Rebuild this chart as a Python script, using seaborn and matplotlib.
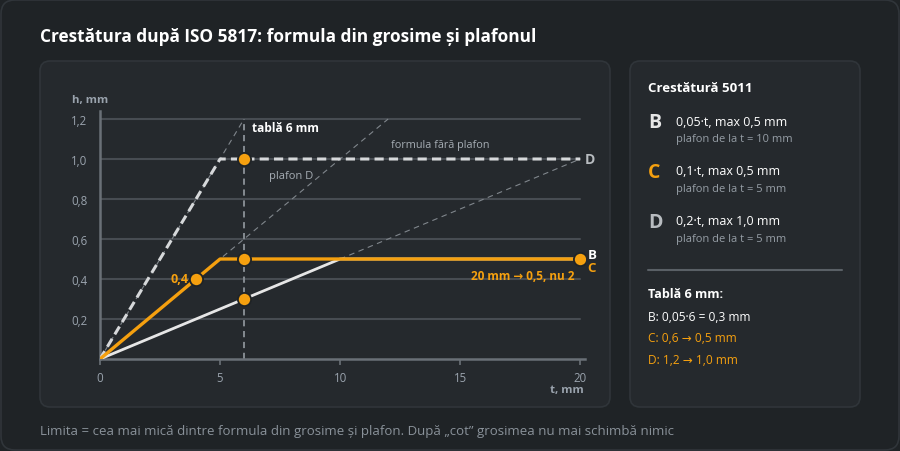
import numpy as np
import pandas as pd
import matplotlib
matplotlib.use("Agg")
import matplotlib.pyplot as plt
import seaborn as sns
from matplotlib.patches import FancyBboxPatch

# date: limita crestaturii h (mm) in functie de grosimea tablei t (mm)
t_b = [0, 10, 20]
h_b = [0, 0.5, 0.5]
t_c = [0, 5, 20]
h_c = [0, 0.5, 0.5]
t_d = [0, 5, 20]
h_d = [0, 1.0, 1.0]

# formula fara plafon
t_raw_b = [0, 20]
h_raw_b = [0, 1.0]
t_raw_c = [0, 12]
h_raw_c = [0, 1.2]
t_raw_d = [0, 6]
h_raw_d = [0, 1.2]

pts_t = [4, 6, 6, 6, 20]
pts_h = [0.4, 0.3, 0.5, 1.0, 0.5]

x_ticks = [0, 5, 10, 15, 20]
y_ticks = [0.2, 0.4, 0.6, 0.8, 1.0, 1.2]
y_labels = ["0,2", "0,4", "0,6", "0,8", "1,0", "1,2"]

sns.set_theme(style="dark")
plt.rcParams["font.family"] = ["Open Sans", "DejaVu Sans"]

BG = "#1f2326"
CARD = "#25292d"
EDGE = "#30353a"
GRID = "#474c52"
TICK = "#9aa3ad"
ORANGE = "#f5a00f"
WHITE = "#e6e6e6"

fig = plt.figure(figsize=(9, 4.52), dpi=100)
fig.patch.set_facecolor(BG)

# fundal cu carduri (coordonate in pixeli)
bg = fig.add_axes([0, 0, 1, 1], zorder=0)
bg.set_xlim(0, 900)
bg.set_ylim(452, 0)
bg.axis("off")
bg.add_patch(FancyBboxPatch((1, 1), 898, 450, boxstyle="round,pad=0,rounding_size=14",
                            fc=BG, ec=EDGE, lw=1.2))
bg.add_patch(FancyBboxPatch((40, 62), 570, 346, boxstyle="round,pad=0,rounding_size=10",
                            fc=CARD, ec=EDGE, lw=1.2))
bg.add_patch(FancyBboxPatch((630, 62), 230, 346, boxstyle="round,pad=0,rounding_size=10",
                            fc=CARD, ec=EDGE, lw=1.2))

bg.text(40, 37, "Crestătura după ISO 5817: formula din grosime și plafonul", color="white",
        fontsize=12.4, fontweight="bold", va="center")
bg.text(40, 432, "Limita = cea mai mică dintre formula din grosime și plafon. După „cot” grosimea nu mai schimbă nimic",
        color="#8a929a", fontsize=9.5, va="center")

# panou dreapta
bg.text(648, 88, "Crestătură 5011", color="white", fontsize=9.5, fontweight="bold", va="center")
rows = [("B", WHITE, "0,05·t, max 0,5 mm", "plafon de la t = 10 mm", 122),
        ("C", ORANGE, "0,1·t, max 0,5 mm", "plafon de la t = 5 mm", 172),
        ("D", "#b8bcc0", "0,2·t, max 1,0 mm", "plafon de la t = 5 mm", 222)]
for letter, col, f1, f2, y in rows:
    bg.text(648, y + 1, letter, color=col, fontsize=14, fontweight="bold", va="center")
    bg.text(676, y, f1, color="white", fontsize=9, va="center")
    bg.text(676, y + 18, f2, color="#969ea6", fontsize=8, va="center")
bg.plot([648, 842], [271, 271], color="#5a6066", lw=1.5)
bg.text(648, 295, "Tablă 6 mm:", color="white", fontsize=9, fontweight="bold", va="center")
bg.text(648, 318, "B: 0,05·6 = 0,3 mm", color="white", fontsize=8.6, va="center")
bg.text(648, 339, "C: 0,6 → 0,5 mm", color=ORANGE, fontsize=8.6, va="center")
bg.text(648, 361, "D: 1,2 → 1,0 mm", color=ORANGE, fontsize=8.6, va="center")

# graficul
ax = fig.add_axes([100 / 900, 92 / 452, 485 / 900, 248 / 452], zorder=2)
ax.set_facecolor("none")
ax.set_xlim(0, 20.2)
ax.set_ylim(0, 1.24)

for yv in y_ticks:
    ax.axhline(yv, color=GRID, lw=1.5, zorder=1, xmax=20 / 20.2)

thin = dict(color="#80868c", lw=0.8, dashes=(5, 4), zorder=2)
sns.lineplot(x=t_raw_b, y=h_raw_b, ax=ax, **thin)
sns.lineplot(x=t_raw_c, y=h_raw_c, ax=ax, **thin)
sns.lineplot(x=t_raw_d, y=h_raw_d, ax=ax, **thin)

ax.plot([6, 6], [0, 1.2], color="#858b91", lw=1.4, dashes=(3.2, 2.4), zorder=2)

sns.lineplot(x=t_b, y=h_b, ax=ax, color=WHITE, lw=2, zorder=3)
sns.lineplot(x=t_d, y=h_d, ax=ax, color="#d6d8da", lw=2.2, dashes=(3, 1.7), zorder=3)
sns.lineplot(x=t_c, y=h_c, ax=ax, color=ORANGE, lw=2.4, zorder=4)
sns.scatterplot(x=pts_t, y=pts_h, ax=ax, color=ORANGE, s=90, edgecolor="#1f2326",
                linewidth=1.3, zorder=5)

ax.text(6.35, 1.16, "tablă 6 mm", color="white", fontsize=8.6, fontweight="bold", va="center")
ax.text(7.05, 0.915, "plafon D", color="#a6adb4", fontsize=8, va="center")
ax.text(12.1, 1.07, "formula fără plafon", color="#a6adb4", fontsize=7.8, va="center")
ax.text(3.7, 0.4, "0,4", color=ORANGE, fontsize=9, fontweight="bold", va="center", ha="right")
ax.text(19.75, 0.415, "20 mm → 0,5, nu 2", color=ORANGE, fontsize=8.5, fontweight="bold",
        va="center", ha="right")
ax.text(20.2, 1.0, "D", color="#b8bcc0", fontsize=10, fontweight="bold", va="center",
        clip_on=False)
ax.text(20.3, 0.52, "B", color="white", fontsize=9.5, fontweight="bold", va="center",
        clip_on=False)
ax.text(20.3, 0.455, "C", color=ORANGE, fontsize=9.5, fontweight="bold", va="center",
        clip_on=False)

ax.set_xticks(x_ticks)
ax.set_yticks(y_ticks)
ax.set_yticklabels(y_labels)
ax.tick_params(axis="x", colors="#6a7077", labelcolor=TICK, labelsize=8.3, length=4, width=1.2,
               direction="out", pad=5, bottom=True)
ax.tick_params(axis="y", labelcolor=TICK, labelsize=8.3, length=0, pad=9)
ax.grid(False)
for s in ["top", "right"]:
    ax.spines[s].set_visible(False)
for s in ["left", "bottom"]:
    ax.spines[s].set_color("#6a7077")
    ax.spines[s].set_linewidth(1.8)
ax.set_xlabel("")
ax.set_ylabel("")

bg.text(72, 101, "h, mm", color=TICK, fontsize=8.2, fontweight="bold", va="center")
bg.text(584, 391, "t, mm", color=TICK, fontsize=8.2, fontweight="bold", va="center", ha="right")

fig.savefig("out.png", dpi=100, facecolor=BG)
